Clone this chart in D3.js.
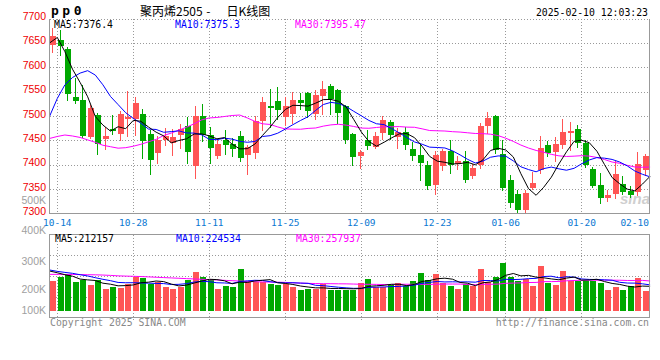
<!DOCTYPE html>
<html><head><meta charset="utf-8">
<script src="https://cdn.jsdelivr.net/npm/d3@7"></script>
<style>body{margin:0;background:#fff}svg{display:block}</style>
</head><body><svg id="c" width="660" height="360"></svg>
<script>
const symbol = "pp0";
const titleParts = ["聚丙烯2505", " - ", "日K线图"];
const timestamp = "2025-02-10 12:03:23";
const dates = ["10-11","10-14","10-15","10-16","10-17","10-18","10-21","10-22","10-23","10-24","10-25","10-28","10-29","10-30","10-31","11-01","11-04","11-05","11-06","11-07","11-08","11-11","11-12","11-13","11-14","11-15","11-18","11-19","11-20","11-21","11-22","11-25","11-26","11-27","11-28","11-29","12-02","12-03","12-04","12-05","12-06","12-09","12-10","12-11","12-12","12-13","12-16","12-17","12-18","12-19","12-20","12-23","12-24","12-25","12-26","12-27","12-30","12-31","01-02","01-03","01-06","01-07","01-08","01-09","01-10","01-13","01-14","01-15","01-16","01-17","01-20","01-21","01-22","01-23","01-24","01-27","02-05","02-06","02-07","02-10"];
const open  = [7646,7656,7638,7538,7533,7456,7502,7453,7473,7463,7494,7493,7504,7463,7425,7451,7444,7462,7480,7398,7500,7461,7418,7451,7442,7459,7420,7425,7490,7520,7531,7497,7505,7533,7548,7505,7542,7561,7553,7520,7464,7418,7451,7437,7466,7487,7456,7468,7432,7420,7400,7358,7398,7428,7401,7408,7376,7400,7480,7500,7423,7369,7340,7307,7353,7389,7440,7427,7440,7466,7473,7445,7391,7358,7332,7341,7360,7346,7345,7389];
const high  = [7680,7676,7642,7577,7564,7523,7506,7478,7502,7510,7551,7540,7514,7471,7459,7475,7473,7483,7497,7520,7524,7478,7451,7471,7454,7470,7440,7500,7538,7555,7559,7540,7550,7548,7550,7553,7572,7565,7555,7523,7466,7430,7471,7468,7500,7492,7475,7477,7446,7440,7408,7429,7432,7451,7417,7428,7401,7486,7509,7502,7451,7379,7348,7348,7386,7459,7449,7456,7493,7488,7482,7451,7396,7384,7348,7408,7376,7356,7427,7423];
const low   = [7632,7625,7533,7527,7456,7454,7422,7432,7463,7451,7459,7461,7413,7381,7404,7440,7420,7434,7403,7372,7449,7404,7414,7422,7418,7408,7382,7413,7471,7478,7493,7482,7486,7514,7497,7494,7505,7505,7486,7445,7400,7394,7432,7434,7453,7453,7434,7432,7410,7369,7350,7340,7390,7383,7391,7365,7372,7393,7465,7425,7348,7314,7304,7304,7350,7384,7417,7408,7434,7430,7437,7396,7355,7321,7326,7331,7340,7334,7338,7378];
const close = [7664,7644,7546,7531,7459,7517,7442,7458,7469,7504,7497,7527,7449,7410,7451,7459,7456,7473,7427,7500,7461,7435,7443,7440,7432,7413,7437,7490,7529,7516,7512,7520,7533,7526,7510,7543,7556,7535,7507,7451,7416,7427,7438,7458,7492,7461,7468,7440,7417,7404,7356,7420,7428,7400,7408,7369,7394,7479,7496,7431,7352,7322,7307,7343,7363,7434,7425,7443,7468,7470,7445,7400,7356,7331,7337,7381,7345,7338,7401,7417];
const volume = [258000,293000,307000,250000,267000,223000,267000,189000,206000,197000,232000,296000,284000,232000,247000,206000,189000,203000,267000,336000,293000,267000,189000,215000,206000,362000,258000,252000,247000,232000,223000,232000,206000,180000,189000,186000,232000,180000,180000,180000,180000,244000,276000,203000,203000,223000,244000,215000,258000,331000,267000,319000,238000,215000,189000,232000,215000,363000,252000,293000,416000,293000,261000,273000,215000,389000,244000,223000,346000,260000,254000,254000,254000,244000,180000,210000,180000,215000,285000,171000];
// moving-average values before a full window exists
const ma5Head  = [7650,7661,7632,7596];
const ma10Head = [7500,7536,7564,7579,7588,7593,7584,7564,7540];
const ma30Head = [7454,7458,7461,7459,7456,7451,7446,7440,7437,7434,7435,7438,7442,7447,7452,7460,7465,7471,7477,7484,7492,7496,7497,7499,7501,7502,7496,7489,7484];
const vma5Head  = [345000,330000,313000,300000];
const vma10Head = [354000,342000,333000,325000,313000,302000,287000,273000,261000];
const vma30Head = [316000,316000,315000,315000,314000,313000,312000,310000,307000,303000,301000,299000,297000,294000,291000,288000,285000,282000,279000,276000,273000,270000,267000,264000,261000,258000,255000,252000,250000];
const priceLegend = ["MA5:7376.4","MA10:7375.3","MA30:7395.47"];
const volLegend = ["MA5:212157","MA10:224534","MA30:257937"];
const xTickLabels = ["10-14","10-28","11-11","11-25","12-09","12-23","01-06","01-20","02-10"];
const priceTicks = [7300,7350,7400,7450,7500,7550,7600,7650,7700];
const volTickValues = [100000,200000,300000,400000,500000];
const volTickLabels = ["100K","200K","300K","400K","500K"];
const copyright = "Copyright 2025 SINA.COM";
const siteUrl = "http://finance.sina.com.cn";

const UP = "#ff5555", DOWN = "#00a800";
const MA_COLORS = ["#000000","#0000ff","#ff00ff"];
const mono = "'DejaVu Sans Mono', monospace";
const sans = "'Liberation Sans', Arial, sans-serif";

const L = 49.5, R = 649.5, T = 18.5, B = 213.5, VT = 234.5, VB = 317.5;

const svg = d3.select("#c");
const n = dates.length;
const idx = d3.range(n);
const xb = d3.scaleBand().domain(idx).range([50, 648.2]).paddingInner(0.24).paddingOuter(0);
const xl = d3.scaleLinear().domain([0, n - 1]).range([49.7, 650.1]);
const y = d3.scaleLinear().domain([7300, 7700]).range([213.5, 18.5]);
const yv = d3.scaleLinear().domain([0, 400000]).range([310.7, 264.7]);
const yvLab = d3.scaleLinear().domain(volTickValues).range([310, 289.3, 261, 230, 200.3]);

function ma(vals, k, head) {
  return vals.map((v, i) => i < k - 1 ? head[i] : d3.mean(vals.slice(i - k + 1, i + 1)));
}
const priceMA = [ma(close,5,ma5Head), ma(close,10,ma10Head), ma(close,30,ma30Head)];
const volMA = [ma(volume,5,vma5Head), ma(volume,10,vma10Head), ma(volume,30,vma30Head)];

const grid = svg.append("g").attr("stroke", "#999").attr("stroke-dasharray", "1,2").attr("shape-rendering", "crispEdges");
priceTicks.filter(p => p > 7300).forEach(p => {
  const gy = Math.round(y(p)) + 0.5;
  grid.append("line").attr("x1", L).attr("x2", R).attr("y1", gy).attr("y2", gy);
});
[1,2,3].forEach(i => {
  const gy = Math.round(VT + i * (VB - VT) / 4) + 0.5;
  grid.append("line").attr("x1", L).attr("x2", R).attr("y1", gy).attr("y2", gy);
});
xTickLabels.forEach(lbl => {
  const k = dates.indexOf(lbl);
  const gx = Math.round(xl(k) - 0.5) + 0.5;
  if (gx >= R - 1) return;
  grid.append("line").attr("x1", gx).attr("x2", gx).attr("y1", T).attr("y2", B);
  grid.append("line").attr("x1", gx).attr("x2", gx).attr("y1", VT).attr("y2", VB + 3);
});

// watermark
svg.append("text").attr("x", 620).attr("y", 204).attr("font-family", sans).attr("font-size", 15)
  .attr("font-weight", "bold").attr("font-style", "italic").attr("fill", "#cfcfcf").text("sina");

// candles
const cg = svg.append("g").attr("shape-rendering", "crispEdges");
idx.forEach(i => {
  const col = close[i] >= open[i] ? UP : DOWN;
  const bx = Math.round(xb(i));
  const bw = Math.round(xb.bandwidth());
  const cx = bx + 2.5;
  cg.append("line").attr("x1", cx).attr("x2", cx)
    .attr("y1", Math.round(y(high[i]))).attr("y2", Math.round(y(low[i])) + 1)
    .attr("stroke", col).attr("stroke-width", 1);
  const t = Math.round(y(Math.max(open[i], close[i])));
  const b = Math.round(y(Math.min(open[i], close[i])));
  cg.append("rect").attr("x", bx).attr("y", t).attr("width", bw).attr("height", Math.max(1, b - t)).attr("fill", col);
});

// volume bars
const vg = svg.append("g").attr("shape-rendering", "crispEdges");
idx.forEach(i => {
  const col = close[i] >= open[i] ? UP : DOWN;
  const bx = Math.round(xb(i));
  const bw = Math.round(xb.bandwidth());
  const t = Math.round(yv(volume[i]));
  vg.append("rect").attr("x", bx).attr("y", t).attr("width", bw).attr("height", Math.round(yv(0)) - t).attr("fill", col);
});

// MA lines
const lineP = d3.line().x((d, i) => xl(i)).y(d => y(d));
const lineV = d3.line().x((d, i) => xl(i)).y(d => yv(d));
[2,1,0].forEach(j => {
  svg.append("path").attr("d", lineP(priceMA[j])).attr("fill", "none").attr("stroke", MA_COLORS[j]).attr("stroke-width", 1);
  svg.append("path").attr("d", lineV(volMA[j])).attr("fill", "none").attr("stroke", MA_COLORS[j]).attr("stroke-width", 1);
});

// borders
const bd = svg.append("g").attr("stroke", "#999").attr("fill", "none").attr("shape-rendering", "crispEdges");
bd.append("path").attr("d", `M${L},${T}V${B}H${R}V${T}`);
bd.append("rect").attr("x", L).attr("y", VT).attr("width", R - L).attr("height", VB - VT);

// price labels
svg.append("g").selectAll("text").data(priceTicks).join("text")
  .attr("x", 46).attr("y", d => y(d) + 1.6).attr("text-anchor", "end")
  .attr("font-family", sans).attr("font-size", 10.5).attr("fill", "#ee0000").text(d => d);
// volume labels
svg.append("g").selectAll("text").data(volTickValues).join("text")
  .attr("x", 46).attr("y", d => yvLab(d) + 3.7).attr("text-anchor", "end")
  .attr("font-family", sans).attr("font-size", 10.5).attr("fill", "#a0a0a0").text((d, i) => volTickLabels[i]);

// x labels
svg.append("g").selectAll("text").data(xTickLabels).join("text")
  .attr("x", d => { const px = xl(dates.indexOf(d)); return px > 630 ? 649 : px; })
  .attr("text-anchor", d => xl(dates.indexOf(d)) > 630 ? "end" : "middle")
  .attr("y", 225.5).attr("font-family", mono).attr("font-size", 9.5).attr("fill", "#0a78d2").text(d => d);

// legends
const legX = [54, 175, 295];
priceLegend.forEach((t, j) => svg.append("text").attr("x", legX[j]).attr("y", 27.5)
  .attr("font-family", mono).attr("font-size", 9.8).attr("fill", MA_COLORS[j]).text(t));
volLegend.forEach((t, j) => svg.append("text").attr("x", legX[j] + 1).attr("y", 242)
  .attr("font-family", mono).attr("font-size", 9.8).attr("fill", MA_COLORS[j]).text(t));

// header
svg.append("text").attr("x", 51).attr("y", 14.5).attr("font-family", mono).attr("font-weight", "bold")
  .attr("font-size", 13).attr("letter-spacing", 3.5).attr("fill", "#000").text(symbol);
const tt = svg.append("text").attr("y", 15.8).attr("font-family", "'Noto Sans CJK SC', sans-serif").attr("font-size", 12).attr("fill", "#000");
tt.append("tspan").attr("x", 140).text(titleParts[0]);
tt.append("tspan").attr("x", 203.5).text(titleParts[1]);
tt.append("tspan").attr("x", 226.5).text(titleParts[2]);
svg.append("text").attr("x", 648).attr("y", 15.7).attr("text-anchor", "end").attr("font-family", mono)
  .attr("font-size", 9.8).attr("fill", "#000").text(timestamp);

// footer
svg.append("text").attr("x", 50).attr("y", 326).attr("font-family", mono).attr("font-size", 9.8).attr("fill", "#888").text(copyright);
svg.append("text").attr("x", 649).attr("y", 326).attr("text-anchor", "end").attr("font-family", mono).attr("font-size", 9.8).attr("fill", "#888").text(siteUrl);
</script></body></html>
